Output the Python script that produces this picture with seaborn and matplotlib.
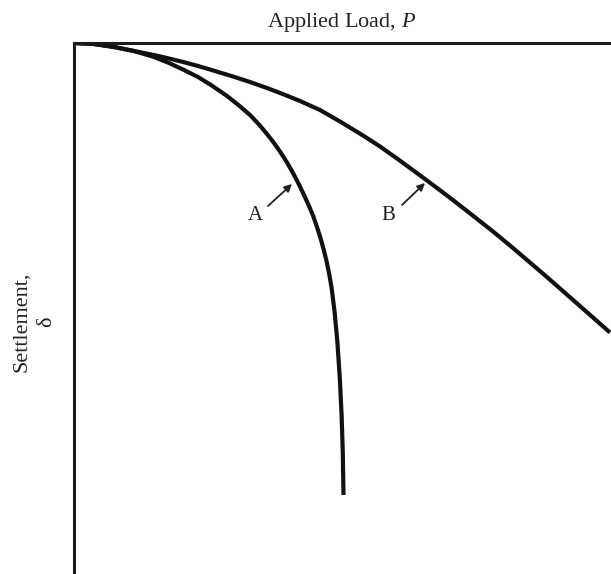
import matplotlib
matplotlib.use("Agg")
import matplotlib.pyplot as plt
import seaborn as sns
import pandas as pd

# values (load to the right, settlement downward)
load_a = [0, 20, 40, 60, 80, 95, 110, 124, 137, 153, 165, 176, 185, 193, 200, 207,
          213, 219, 225, 230, 235, 239, 243, 246.5, 249.5, 252.5, 255.2, 257.6,
          260.5, 263.3, 265.8, 267.6, 268.8, 269.5]
settle_a = [0, 1, 4, 8, 14, 20, 27, 34, 42, 53, 62.5, 72, 81.5, 91, 100, 110,
            119.5, 130, 141.5, 152, 163, 172.5, 184, 195, 206, 218, 231, 245,
            268, 298, 335, 372, 410, 452]
load_b = [0, 20, 40, 60, 80, 95, 110, 124, 137, 159, 176, 193, 210, 226, 246, 266,
          289, 306, 323, 338, 353, 373, 393, 419, 436, 453, 470, 486, 511, 536]
settle_b = [0, 1, 4, 8, 12, 15.5, 19.2, 23, 26.8, 33.5, 39, 45, 51.5, 58, 67, 78.5,
            92.5, 103.5, 115.5, 126.5, 137.5, 152.5, 168, 188.5, 202.5, 217, 231.5,
            245.5, 267.5, 289.5]

curve_names = ["A", "B"]
arrow_tips = [(218, 141), (351, 140)]
arrow_tails = [(194, 163), (328, 162)]
label_spots = [(181, 173), (314, 173)]

sns.set_style("white")
plt.rcParams['font.family'] = ['Liberation Serif', 'DejaVu Serif']
plt.rcParams['mathtext.fontset'] = 'custom'
plt.rcParams['mathtext.it'] = 'Liberation Serif:italic'
plt.rcParams['mathtext.rm'] = 'Liberation Serif'

df = pd.concat([
    pd.DataFrame({"load": load_a, "settlement": settle_a, "curve": "A"}),
    pd.DataFrame({"load": load_b, "settlement": settle_b, "curve": "B"}),
])

fig = plt.figure(figsize=(6.11, 5.74), dpi=100)
ax = fig.add_axes([74 / 611, 0, 1 - 74 / 611, 1 - 43 / 574])

sns.lineplot(data=df, x="load", y="settlement", units="curve", estimator=None,
             sort=False, color="#111111", linewidth=3.0, ax=ax,
             solid_joinstyle="round", solid_capstyle="butt")

ax.set_xlim(0, 537)
ax.set_ylim(531, 0)
ax.set_xticks([])
ax.set_yticks([])
ax.set_xlabel("")
ax.set_ylabel("")
for side in ["right", "bottom"]:
    ax.spines[side].set_visible(False)
for side in ["top", "left"]:
    ax.spines[side].set_linewidth(2.2)
    ax.spines[side].set_color("#1a1a1a")

for name, tip, tail, spot in zip(curve_names, arrow_tips, arrow_tails, label_spots):
    ax.annotate("", xy=tip, xytext=tail,
                arrowprops=dict(arrowstyle="-|>", color="#222222", lw=1.3,
                                mutation_scale=11, shrinkA=0, shrinkB=0))
    ax.text(spot[0], spot[1], name, ha="center", va="center",
            fontsize=15, color="#222222")

fig.text(342 / 611, 1 - 22 / 574, "Applied Load, $P$", ha="center", va="center",
         fontsize=16, color="#222222")
fig.text(34 / 611, 1 - 322 / 574, "Settlement,\n\u03b4", ha="center", va="center",
         rotation=90, fontsize=16, color="#222222", linespacing=1.45)

fig.savefig("out.png", dpi=100)
